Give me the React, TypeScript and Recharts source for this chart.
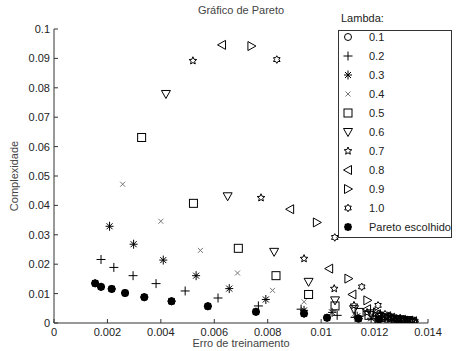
import { ScatterChart, Scatter, XAxis, YAxis } from 'recharts';

const xTicks = [0, 0.002, 0.004, 0.006, 0.008, 0.01, 0.012, 0.014];
const xTickLabels = ['0', '0.002', '0.004', '0.006', '0.008', '0.01', '0.012', '0.014'];
const yTicks = [0, 0.01, 0.02, 0.03, 0.04, 0.05, 0.06, 0.07, 0.08, 0.09, 0.1];
const yTickLabels = ['0', '0.01', '0.02', '0.03', '0.04', '0.05', '0.06', '0.07', '0.08', '0.09', '0.1'];

const lambdaLabels = ['0.1', '0.2', '0.3', '0.4', '0.5', '0.6', '0.7', '0.8', '0.9', '1.0'];
const paretoLabel = 'Pareto escolhido';

// [erro de treinamento, complexidade]
const lambda01 = [[0.00154, 0.0135], [0.00176, 0.0123], [0.00216, 0.0116], [0.00266, 0.0102], [0.00338, 0.0088], [0.0044, 0.0074], [0.00576, 0.0057], [0.00756, 0.0038], [0.00936, 0.0032], [0.01022, 0.0018], [0.0114, 0.0015], [0.01217, 0.0013]];
const lambda02 = [[0.00176, 0.0216], [0.00224, 0.0189], [0.00296, 0.0161], [0.00382, 0.0134], [0.00491, 0.0109], [0.00614, 0.0085], [0.00765, 0.0058], [0.00925, 0.0047], [0.0106, 0.0026], [0.01127, 0.0019], [0.01204, 0.0014], [0.01262, 0.0011]];
const lambda03 = [[0.00208, 0.0329], [0.00298, 0.0268], [0.00409, 0.0214], [0.00532, 0.0161], [0.00656, 0.0117], [0.00793, 0.008], [0.00936, 0.0043], [0.01041, 0.0036], [0.01135, 0.0023], [0.01187, 0.0016], [0.01247, 0.0013], [0.01292, 0.0009]];
const lambda04 = [[0.00257, 0.0472], [0.004, 0.0346], [0.00548, 0.0247], [0.00687, 0.017], [0.00818, 0.0111], [0.00936, 0.0072], [0.01052, 0.004], [0.01123, 0.003], [0.01187, 0.0021], [0.01228, 0.0014], [0.01277, 0.0011], [0.0131, 0.0009]];
const lambda05 = [[0.00328, 0.0631], [0.00522, 0.0407], [0.0069, 0.0254], [0.00831, 0.0161], [0.00953, 0.0097], [0.01052, 0.0058], [0.01142, 0.0036], [0.01179, 0.0026], [0.01224, 0.0019], [0.01254, 0.0013], [0.01295, 0.0011], [0.01325, 0.0008]];
const lambda06 = [[0.00419, 0.0779], [0.0065, 0.0431], [0.00824, 0.0242], [0.00953, 0.014], [0.01052, 0.0077], [0.01123, 0.0047], [0.01187, 0.0033], [0.01217, 0.0023], [0.01251, 0.0018], [0.01277, 0.0013], [0.0131, 0.0009], [0.01333, 0.0008]];
const lambda07 = [[0.0052, 0.0892], [0.00775, 0.0426], [0.00936, 0.0219], [0.01049, 0.0117], [0.01123, 0.006], [0.01172, 0.0036], [0.01221, 0.0028], [0.01243, 0.0019], [0.01269, 0.0016], [0.01292, 0.0011], [0.01322, 0.0009], [0.0134, 0.0006]];
const lambda08 = [[0.00629, 0.0946], [0.00884, 0.0387], [0.0103, 0.0185], [0.01117, 0.0097], [0.01172, 0.0047], [0.01209, 0.003], [0.01247, 0.0023], [0.01262, 0.0018], [0.01284, 0.0014], [0.01303, 0.0011], [0.01329, 0.0008], [0.01344, 0.0006]];
const lambda09 = [[0.00739, 0.0942], [0.00984, 0.0342], [0.01102, 0.0151], [0.01173, 0.0077], [0.01209, 0.0036], [0.01239, 0.0023], [0.01265, 0.0019], [0.01277, 0.0016], [0.01295, 0.0013], [0.01314, 0.0009], [0.01336, 0.0008], [0.01348, 0.0006]];
const lambda10 = [[0.00834, 0.0896], [0.01051, 0.0291], [0.01152, 0.0123], [0.01213, 0.006], [0.01239, 0.003], [0.01262, 0.0019], [0.0128, 0.0016], [0.01292, 0.0014], [0.01307, 0.0013], [0.01322, 0.0009], [0.0134, 0.0008], [0.01351, 0.0006]];
const pareto = [[0.00154, 0.0135], [0.00176, 0.0123], [0.00216, 0.0116], [0.00266, 0.0102], [0.00338, 0.0088], [0.0044, 0.0074], [0.00576, 0.0057], [0.00756, 0.0038], [0.00936, 0.0032], [0.01022, 0.0018], [0.0114, 0.0015], [0.01217, 0.0013]];

const seriesData = [lambda01, lambda02, lambda03, lambda04, lambda05, lambda06, lambda07, lambda08, lambda09, lambda10];
const markerKinds = ['circle', 'plus', 'asterisk', 'cross', 'square', 'down', 'pentagram', 'left', 'right', 'hexagram'];

const FONT = '"Liberation Sans", Arial, sans-serif';
const INK = '#222';

const toPts = (arr: number[][]) => arr.map(([x, y]) => ({ x, y }));

function starPoints(cx: number, cy: number, n: number, ro: number, ri: number) {
  const pts: string[] = [];
  for (let i = 0; i < n * 2; i++) {
    const r = i % 2 === 0 ? ro : ri;
    const a = -Math.PI / 2 + (i * Math.PI) / n;
    pts.push(`${cx + r * Math.cos(a)},${cy + r * Math.sin(a)}`);
  }
  return pts.join(' ');
}

function Marker({ kind, cx, cy }: { kind: string; cx: number; cy: number }) {
  const s = { fill: 'none', stroke: '#000', strokeWidth: 1 };
  switch (kind) {
    case 'circle':
      return <circle cx={cx} cy={cy} r={3.5} {...s} />;
    case 'plus':
      return (
        <g {...s}>
          <line x1={cx - 4.5} x2={cx + 4.5} y1={cy} y2={cy} />
          <line x1={cx} x2={cx} y1={cy - 4.5} y2={cy + 4.5} />
        </g>
      );
    case 'asterisk':
      return (
        <g {...s}>
          <line x1={cx - 4} x2={cx + 4} y1={cy} y2={cy} />
          <line x1={cx} x2={cx} y1={cy - 4.5} y2={cy + 4.5} />
          <line x1={cx - 3} x2={cx + 3} y1={cy - 3} y2={cy + 3} />
          <line x1={cx - 3} x2={cx + 3} y1={cy + 3} y2={cy - 3} />
        </g>
      );
    case 'cross':
      return (
        <g fill="none" stroke="#777" strokeWidth={1}>
          <line x1={cx - 2.5} x2={cx + 2.5} y1={cy - 2.5} y2={cy + 2.5} />
          <line x1={cx - 2.5} x2={cx + 2.5} y1={cy + 2.5} y2={cy - 2.5} />
        </g>
      );
    case 'square':
      return <rect x={cx - 4} y={cy - 4} width={8} height={8} {...s} />;
    case 'down':
      return <polygon points={`${cx - 4.5},${cy - 3.5} ${cx + 4.5},${cy - 3.5} ${cx},${cy + 4.5}`} {...s} />;
    case 'left':
      return <polygon points={`${cx - 4.5},${cy} ${cx + 3.5},${cy - 4.5} ${cx + 3.5},${cy + 4.5}`} {...s} />;
    case 'right':
      return <polygon points={`${cx + 4.5},${cy} ${cx - 3.5},${cy - 4.5} ${cx - 3.5},${cy + 4.5}`} {...s} />;
    case 'pentagram':
      return <polygon points={starPoints(cx, cy, 5, 4, 1.8)} {...s} />;
    case 'hexagram':
      return <polygon points={starPoints(cx, cy, 6, 3.8, 2.2)} {...s} />;
    case 'pareto':
      return (
        <g stroke="#000" strokeWidth={1.3}>
          <circle cx={cx} cy={cy} r={3} fill="#000" />
          <line x1={cx - 4} x2={cx + 4} y1={cy} y2={cy} />
          <line x1={cx} x2={cx} y1={cy - 4} y2={cy + 4} />
          <line x1={cx - 3} x2={cx + 3} y1={cy - 3} y2={cy + 3} />
          <line x1={cx - 3} x2={cx + 3} y1={cy + 3} y2={cy - 3} />
        </g>
      );
    default:
      return null;
  }
}

function XTick(props: any) {
  const { x, y, payload } = props;
  const label = xTickLabels[xTicks.indexOf(payload.value)];
  return (
    <g>
      <line x1={x} x2={x} y1={y} y2={y - 4} stroke="#333" />
      <text x={x} y={y + 13} textAnchor="middle" fontSize={11} fontFamily={FONT} fill={INK}>
        {label}
      </text>
    </g>
  );
}

function YTick(props: any) {
  const { x, y, payload } = props;
  const label = yTickLabels[yTicks.indexOf(payload.value)];
  return (
    <g>
      <line x1={x} x2={x + 4} y1={y} y2={y} stroke="#333" />
      <text x={x - 4} y={y + 4} textAnchor="end" fontSize={11} fontFamily={FONT} fill={INK}>
        {label}
      </text>
    </g>
  );
}

function LegendBox() {
  const rows = [...lambdaLabels, paretoLabel];
  const kinds = [...markerKinds, 'pareto'];
  return (
    <svg width={457} height={351} style={{ position: 'absolute', left: 0, top: 0, pointerEvents: 'none' }}>
      <text x={241} y={14} textAnchor="middle" fontSize={11} fontFamily={FONT} fill="#444">
        Gráfico de Pareto
      </text>
      <text x={241} y={347} textAnchor="middle" fontSize={11} fontFamily={FONT} fill="#444">
        Erro de treinamento
      </text>
      <text x={18} y={176} textAnchor="middle" fontSize={11} fontFamily={FONT} fill="#444" transform="rotate(-90 18 176)">
        Complexidade
      </text>
      <text x={341} y={22} fontSize={11} fontFamily={FONT} fill={INK}>
        Lambda:
      </text>
      <rect x={338.5} y={30.5} width={113} height={207} fill="#fff" stroke="#333" />
      {rows.map((r, i) => (
        <g key={r}>
          <Marker kind={kinds[i]} cx={348} cy={37 + i * 19} />
          <text x={369} y={41 + i * 19} fontSize={11} fontFamily={FONT} fill={INK}>
            {r}
          </text>
        </g>
      ))}
    </svg>
  );
}

export default function App() {
  return (
    <div style={{ position: 'absolute', left: 0, top: 0, width: 457, height: 351, background: '#fff' }}>
      <ScatterChart width={457} height={351} margin={{ top: 29, right: 29, bottom: 0, left: 0 }}>
        <XAxis
          type="number"
          dataKey="x"
          domain={[0, 0.014]}
          ticks={xTicks}
          height={28}
          tickSize={0}
          tickMargin={0}
          tickLine={false}
          axisLine={{ stroke: '#333' }}
          tick={<XTick />}
          interval={0}
          allowDataOverflow
        />
        <YAxis
          type="number"
          dataKey="y"
          domain={[0, 0.1]}
          ticks={yTicks}
          width={54}
          tickSize={0}
          tickMargin={0}
          tickLine={false}
          axisLine={{ stroke: '#333' }}
          tick={<YTick />}
          interval={0}
          allowDataOverflow
        />
        {seriesData.map((d, i) => (
          <Scatter
            key={lambdaLabels[i]}
            data={toPts(d)}
            isAnimationActive={false}
            shape={(p: any) => <Marker kind={markerKinds[i]} cx={p.cx} cy={p.cy} />}
          />
        ))}
        <Scatter
          data={toPts(pareto)}
          isAnimationActive={false}
          shape={(p: any) => <Marker kind="pareto" cx={p.cx} cy={p.cy} />}
        />
      </ScatterChart>
      <LegendBox />
    </div>
  );
}
